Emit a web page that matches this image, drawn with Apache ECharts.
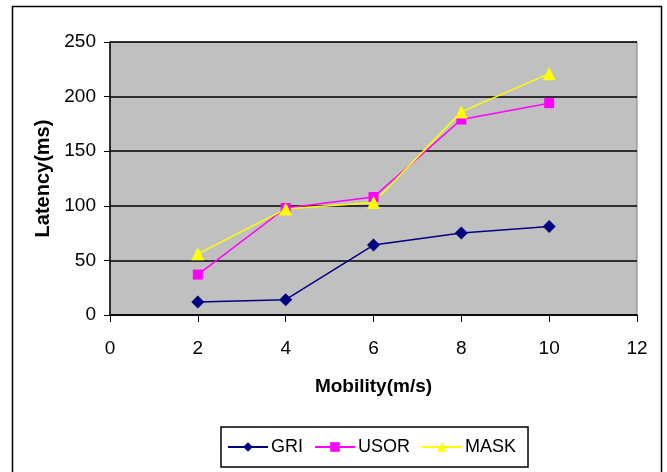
<!DOCTYPE html>
<html>
<head>
<meta charset="utf-8">
<script src="https://cdn.jsdelivr.net/npm/echarts@6/dist/echarts.min.js"></script>
<style>
  html, body { margin: 0; padding: 0; background: #fff; }
  #chart { width: 667px; height: 472px; }
</style>
</head>
<body>
<div id="chart"></div>
<script>
const mobility = [2, 4, 6, 8, 10]
const gri = [12, 14, 64, 75, 81]
const usor = [37, 98, 108, 179, 194]
const mask = [56, 97, 103, 186, 221]

const pairs = vals => mobility.map((m, i) => [m, vals[i]])
const font = '"Liberation Sans", Arial, sans-serif'

const chart = echarts.init(document.getElementById('chart'), null, { renderer: 'canvas' })

chart.setOption({
  animation: false,
  textStyle: { fontFamily: font },
  graphic: [
    {
      type: 'rect',
      shape: { x: 12.5, y: 6.5, width: 649, height: 470 },
      style: { fill: 'none', stroke: '#000', lineWidth: 1.5 },
      silent: true
    }
  ],
  grid: {
    left: 110,
    top: 42,
    right: 30,
    bottom: 157,
    show: true,
    backgroundColor: '#c0c0c0',
    borderColor: '#808080',
    borderWidth: 1
  },
  xAxis: {
    type: 'value',
    min: 0,
    max: 12,
    interval: 2,
    name: 'Mobility(m/s)',
    nameLocation: 'middle',
    nameGap: 62,
    nameTextStyle: { fontSize: 19, fontWeight: 'bold', color: '#000', fontFamily: font },
    axisLine: { lineStyle: { color: '#000', width: 1.5 } },
    axisTick: { show: true, length: 7, lineStyle: { color: '#000' } },
    axisLabel: { fontSize: 19, color: '#000', margin: 24, fontFamily: font },
    splitLine: { show: false }
  },
  yAxis: {
    type: 'value',
    min: 0,
    max: 250,
    interval: 50,
    name: 'Latency(ms)',
    nameLocation: 'middle',
    nameGap: 55,
    nameTextStyle: { fontSize: 20, fontWeight: 'bold', color: '#000', fontFamily: font },
    axisLine: { show: true, lineStyle: { color: '#000', width: 1.5 } },
    axisTick: { show: true, length: 6, lineStyle: { color: '#000' } },
    axisLabel: { fontSize: 19, color: '#000', margin: 14, fontFamily: font },
    splitLine: { show: true, lineStyle: { color: '#000', width: 1.5 } }
  },
  legend: {
    left: 221,
    top: 427,
    padding: [11, 12, 11, 6],
    itemGap: 11,
    itemWidth: 40,
    itemHeight: 12,
    borderColor: '#000',
    borderWidth: 1.5,
    textStyle: { fontSize: 18, color: '#000', fontFamily: font, padding: [0, 0, 0, -2] },
    data: ['GRI', 'USOR', 'MASK']
  },
  series: [
    {
      name: 'GRI',
      type: 'line',
      data: pairs(gri),
      color: '#000080',
      symbol: 'diamond',
      symbolSize: 13,
      lineStyle: { width: 1.5 }
    },
    {
      name: 'USOR',
      type: 'line',
      data: pairs(usor),
      color: '#ff00ff',
      symbol: 'rect',
      symbolSize: 10,
      lineStyle: { width: 1.5 }
    },
    {
      name: 'MASK',
      type: 'line',
      data: pairs(mask),
      color: '#ffff00',
      symbol: 'triangle',
      symbolSize: 13,
      lineStyle: { width: 1.5 }
    }
  ]
})
</script>
</body>
</html>
